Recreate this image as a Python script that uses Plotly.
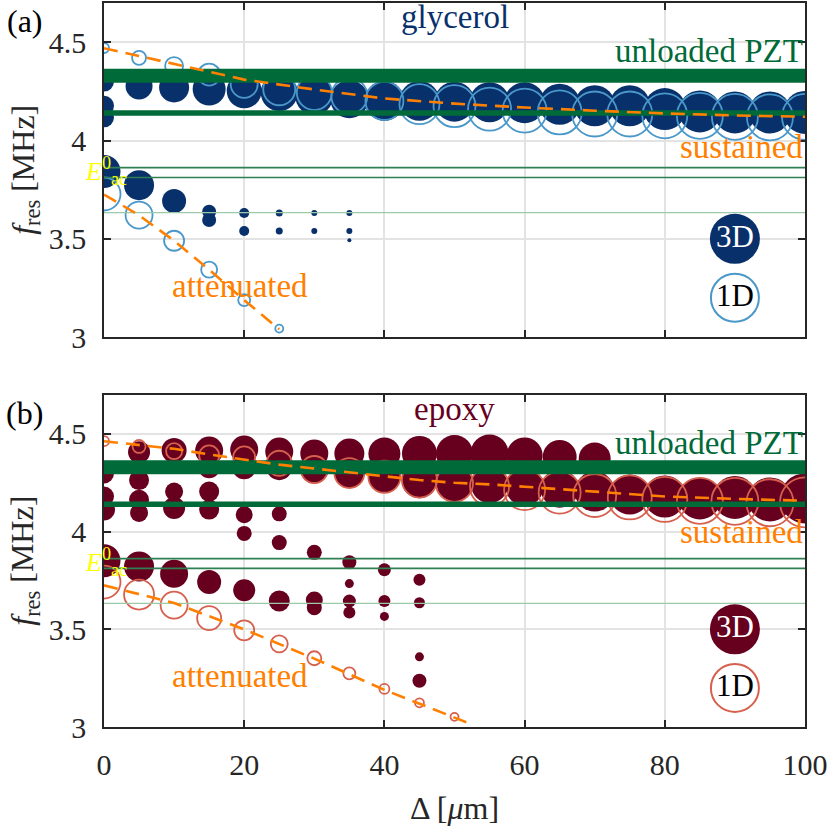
import plotly.graph_objects as go

# ---- data ----
# (a) glycerol, 3D model (filled)
gly3_x = [0, 0, 0, 0, 5, 5, 10, 10, 15, 15, 15, 20, 20, 20, 25, 25, 25, 30, 30, 30,
          35, 35, 35, 35, 40, 45, 50, 55, 60, 65, 70, 75, 80, 85, 90, 95, 100]
gly3_y = [4.30, 4.177, 4.118, 3.843, 4.278, 3.773, 4.27, 3.692, 4.262, 3.638, 3.596,
          4.253, 3.631, 3.540, 4.244, 3.631, 3.540, 4.227, 3.631, 3.540,
          4.21, 3.631, 3.540, 3.493, 4.202, 4.202, 4.198, 4.195, 4.193, 4.185, 4.177,
          4.177, 4.16, 4.148, 4.143, 4.143, 4.143]
gly3_s = [20, 20, 20, 33, 27, 30, 30, 24, 33, 14, 14, 35, 10, 10, 37, 7, 7, 38, 6, 6,
          38, 6, 6, 4, 40, 40, 40, 40, 41, 41, 41, 41, 42, 42, 42, 42, 43]
# (a) glycerol, 1D model (open)
gly1_x = [0, 5, 10, 15, 20, 25, 30, 35, 40, 45, 50, 55, 60, 65, 70, 75, 80, 85, 90, 95, 100,
          0, 5, 10, 15, 20, 25]
gly1_y = [4.471, 4.421, 4.379, 4.336, 4.286, 4.261, 4.244, 4.227, 4.202, 4.185, 4.175,
          4.16, 4.152, 4.143, 4.135, 4.135, 4.126, 4.126, 4.12, 4.118, 4.12,
          3.728, 3.621, 3.49, 3.343, 3.188, 3.043]
gly1_s = [10, 14, 18, 22, 27, 32, 35, 36, 38, 40, 42, 43, 44, 44, 45, 45, 45, 46, 46, 46, 46,
          33, 27, 20, 16, 12, 8]

# (b) epoxy, 3D model (filled)
epo3_x = [0, 0, 0, 0,
          5, 5, 5, 5, 5,
          10, 10, 10, 10,
          15, 15, 15, 15, 15,
          20, 20, 20, 20, 20,
          25, 25, 25, 25, 25,
          30, 30, 30, 30, 30,
          35, 35, 35, 35, 35, 35,
          40, 40, 40, 40, 40,
          45, 45, 45, 45, 45, 45,
          50, 50, 55, 55, 60, 60, 65, 65, 70, 70,
          75, 80, 85, 90, 95, 100]
epo3_y = [4.298, 4.18, 4.113, 3.851,
          4.407, 4.264, 4.163, 4.096, 3.821,
          4.416, 4.205, 4.121, 3.784,
          4.415, 4.33, 4.205, 4.113, 3.742,
          4.42, 4.33, 4.087, 3.991, 3.70,
          4.41, 4.33, 4.091, 3.944, 3.645,
          4.40, 4.318, 3.894, 3.65, 3.611,
          4.40, 4.30, 3.843, 3.734, 3.645, 3.586,
          4.40, 4.281, 3.805, 3.645, 3.566,
          4.40, 4.26, 3.754, 3.636, 3.359, 3.237,
          4.40, 4.247, 4.40, 4.24, 4.39, 4.23, 4.382, 4.22, 4.374, 4.205,
          4.19, 4.18, 4.17, 4.175, 4.165, 4.17]
epo3_s = [20, 20, 22, 33,
          22, 20, 20, 18, 30,
          25, 18, 22, 28,
          28, 22, 20, 20, 24,
          28, 24, 17, 15, 22,
          28, 26, 15, 15, 21,
          28, 28, 15, 17, 15,
          30, 30, 14, 9, 13, 12,
          32, 32, 13, 12, 9,
          35, 35, 12, 11, 9, 14,
          37, 36, 38, 37, 36, 38, 34, 38, 32, 40,
          40, 42, 42, 43, 44, 50]
# (b) epoxy, 1D model (open)
epo1_x = [0, 5, 10, 15, 20, 25, 30, 35, 40, 45, 50, 55, 60, 65, 70, 75, 80, 85, 90, 95, 100,
          0, 5, 10, 15, 20, 25, 30, 35, 40, 45, 50]
epo1_y = [4.463, 4.436, 4.412, 4.39, 4.38, 4.35, 4.318, 4.30, 4.281, 4.264, 4.247, 4.23,
          4.215, 4.2, 4.185, 4.175, 4.165, 4.158, 4.155, 4.148, 4.15,
          3.742, 3.678, 3.624, 3.557, 3.495, 3.426, 3.352, 3.274, 3.195, 3.124, 3.052]
epo1_s = [10, 13, 16, 20, 22, 25, 27, 30, 32, 35, 37, 39, 41, 42, 43, 44, 45, 46, 47, 47, 50,
          33, 30, 27, 24, 20, 17, 14, 12, 10, 9, 8]

# fitted trend lines (orange, dashed)
gly_sus_x = [0, 10, 20, 30, 40, 50, 60, 70, 80, 90, 100]
gly_sus_y = [4.47, 4.39, 4.31, 4.26, 4.214, 4.188, 4.168, 4.152, 4.138, 4.128, 4.121]
gly_att_x = [0, 5, 10, 15, 20, 25]
gly_att_y = [3.725, 3.62, 3.49, 3.343, 3.188, 3.04]
epo_sus_x = [0, 5, 10, 15, 20, 25, 30, 35, 40, 45, 50, 55, 60, 70, 80, 90, 100]
epo_sus_y = [4.463, 4.444, 4.424, 4.395, 4.37, 4.343, 4.323, 4.303, 4.281, 4.264, 4.25,
             4.242, 4.23, 4.205, 4.18, 4.168, 4.158]
epo_att_x = [0, 10, 20, 30, 40, 50, 52]
epo_att_y = [3.725, 3.635, 3.50, 3.35, 3.19, 3.05, 3.02]

# unloaded PZT resonances (green lines)
pzt_f = [4.33, 4.14, 3.862, 3.812, 3.633]
pzt_w = [14, 5.5, 1.6, 1.6, 1.2]
pzt_c = ["#006a38", "#006a38", "#2f7f52", "#2f7f52", "#9ccaa9"]

NAVY = "#08306b"
LBLUE = "#4a98c9"
DRED = "#67001f"
SALMON = "#d6604d"
ORANGE = "#ff8000"
GREEN = "#006a38"
YELLOW = "#ffff00"
FONT = "Liberation Serif"

fig = go.Figure()


def panel(xa, ya, x3, y3, s3, c3, x1, y1, s1, c1, sus, att):
    fig.add_trace(go.Scatter(x=x3, y=y3, mode="markers", xaxis=xa, yaxis=ya,
                             marker=dict(size=s3, color=c3, opacity=1, line=dict(width=0))))
    fig.add_trace(go.Scatter(x=x1, y=y1, mode="markers", xaxis=xa, yaxis=ya,
                             marker=dict(size=s1, color="rgba(0,0,0,0)", opacity=1,
                                         line=dict(width=1.8, color=c1))))
    for f, w, c in zip(pzt_f, pzt_w, pzt_c):
        fig.add_trace(go.Scatter(x=[0, 100], y=[f, f], mode="lines", xaxis=xa, yaxis=ya,
                                 line=dict(color=c, width=w)))
    for lx, ly in (sus, att):
        fig.add_trace(go.Scatter(x=lx, y=ly, mode="lines", xaxis=xa, yaxis=ya,
                                 line=dict(color=ORANGE, width=2.6, dash="14px,8px")))
    # legend badges
    fig.add_trace(go.Scatter(x=[90], y=[3.5], mode="markers+text", text=["3D"],
                             textposition="middle center", xaxis=xa, yaxis=ya,
                             textfont=dict(family=FONT, size=31, color="white"),
                             marker=dict(size=50, color=c3, opacity=1)))
    fig.add_trace(go.Scatter(x=[90], y=[3.2], mode="markers+text", text=["1D"],
                             textposition="middle center", xaxis=xa, yaxis=ya,
                             textfont=dict(family=FONT, size=31, color="black"),
                             marker=dict(size=48, color="white", opacity=1,
                                         line=dict(width=2, color=c1))))


panel("x", "y", gly3_x, gly3_y, gly3_s, NAVY, gly1_x, gly1_y, gly1_s, LBLUE,
      (gly_sus_x, gly_sus_y), (gly_att_x, gly_att_y))
panel("x2", "y2", epo3_x, epo3_y, epo3_s, DRED, epo1_x, epo1_y, epo1_s, SALMON,
      (epo_sus_x, epo_sus_y), (epo_att_x, epo_att_y))

axis_common = dict(showline=True, mirror="ticks", linecolor="#262626", linewidth=1.5,
                   ticks="inside", ticklen=7, tickwidth=1.5, tickcolor="#262626",
                   showgrid=True, gridcolor="#e3e3e3", gridwidth=1.5, zeroline=False,
                   tickfont=dict(family=FONT, size=30, color="#262626"))
xcommon = dict(axis_common, range=[0, 100], tickvals=[0, 20, 40, 60, 80, 100])
ycommon = dict(axis_common, range=[3, 4.7], tickvals=[3, 3.5, 4, 4.5],
               ticktext=["3", "3.5", "4", "4.5"], ticklabelstandoff=10)

fig.update_layout(
    width=830, height=830, showlegend=False,
    plot_bgcolor="white", paper_bgcolor="white",
    margin=dict(l=104, r=25, t=1, b=103),
    xaxis=dict(xcommon, domain=[0, 1], anchor="y", showticklabels=False),
    yaxis=dict(ycommon, domain=[0.5386, 1], anchor="x"),
    xaxis2=dict(xcommon, domain=[0, 1], anchor="y2", ticklabelstandoff=10),
    yaxis2=dict(ycommon, domain=[0, 0.4587], anchor="x2"),
)

ann = []


def label(text, x, y, xr, yr, color, size=33, xanchor="center", yanchor="middle", xshift=0):
    ann.append(dict(text=text, x=x, y=y, xref=xr, yref=yr, showarrow=False,
                    xanchor=xanchor, yanchor=yanchor, xshift=xshift,
                    font=dict(family=FONT, size=size, color=color)))


for xr, yr, name, ncol in (("x", "y", "glycerol", NAVY), ("x2", "y2", "epoxy", DRED)):
    label(name, 50, 4.63, xr, yr, ncol)
    label("unloaded PZT", 100, 4.455, xr, yr, GREEN, xanchor="right")
    label("sustained", 100, 3.965 if xr == "x" else 4.0, xr, yr, ORANGE, xanchor="right")
    label("attenuated", 19.4, 3.26, xr, yr, ORANGE)
    label("<i>E</i><sup>0</sup><sub>ac</sub>", 0.05, 3.845, xr, yr, YELLOW, size=26, xshift=2)
    dom = "y domain" if yr == "y" else "y2 domain"
    ann.append(dict(text="<i>f</i><sub>res</sub> [MHz]", x=-0.113, y=0.5, xref="paper", yref=dom,
                    showarrow=False, textangle=-90, xanchor="center", yanchor="middle",
                    font=dict(family=FONT, size=32, color="#262626")))

label("(a)", -0.113, 0.945, "paper", "y domain", "black", size=32)
label("(b)", -0.113, 0.945, "paper", "y2 domain", "black", size=32)
ann.append(dict(text="Δ [<i>μ</i>m]", x=0.5, y=-0.112, xref="paper", yref="paper",
                showarrow=False, xanchor="center", yanchor="middle",
                font=dict(family=FONT, size=32, color="#262626")))
fig.update_layout(annotations=ann)

fig.write_html("out.html", config={"displayModeBar": False},
               post_script="document.body.style.margin='0px';")
